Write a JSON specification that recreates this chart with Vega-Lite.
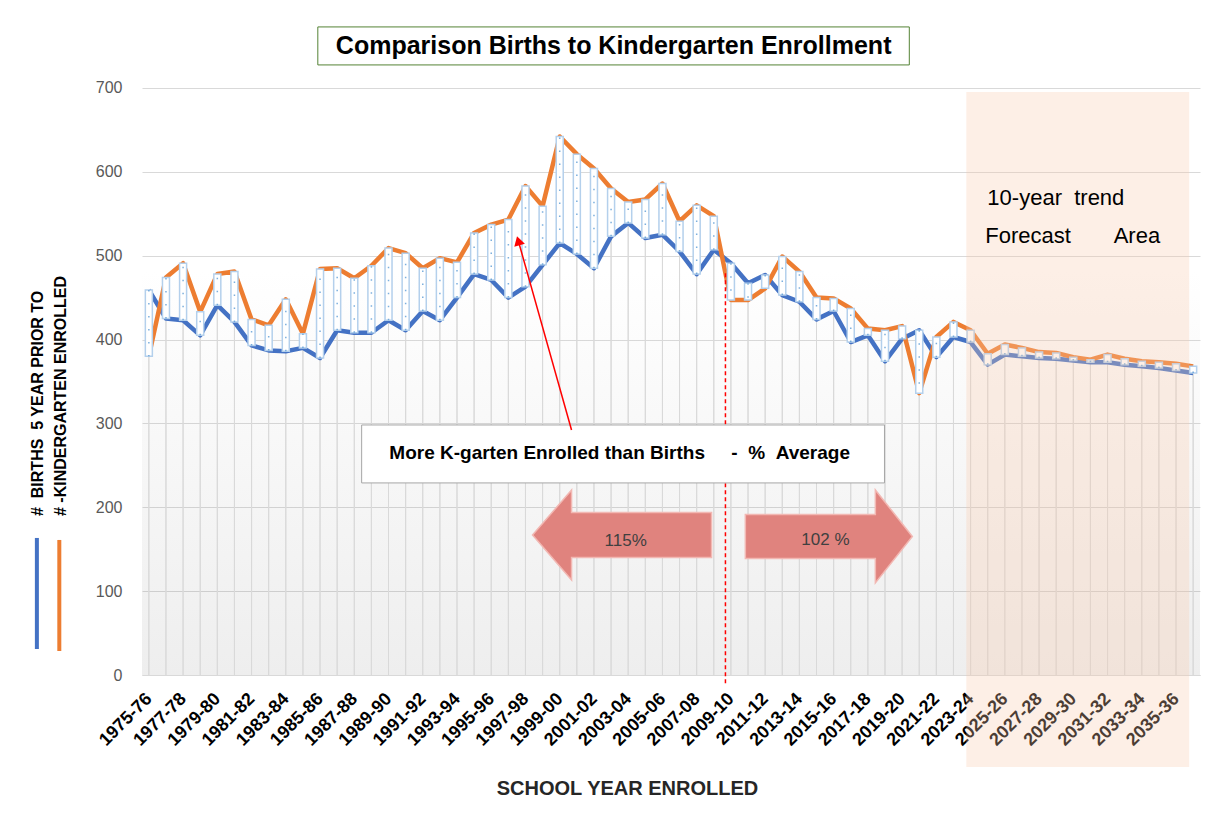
{
  "$schema": "https://vega.github.io/schema/vega-lite/v6.json",
  "width": 1058,
  "height": 650,
  "autosize": {"type": "none"},
  "padding": {"left": 142, "top": 25, "right": 25, "bottom": 149},
  "background": "#ffffff",
  "config": {"view": {"stroke": null}, "font": "Liberation Sans"},
  "datasets": {
    "k": [
      {"year":"1975-76","births":459,"enrolled":380},
      {"year":"1976-77","births":425,"enrolled":474},
      {"year":"1977-78","births":423,"enrolled":491},
      {"year":"1978-79","births":405,"enrolled":433},
      {"year":"1979-80","births":441,"enrolled":478},
      {"year":"1980-81","births":421,"enrolled":481},
      {"year":"1981-82","births":393,"enrolled":424},
      {"year":"1982-83","births":387,"enrolled":417},
      {"year":"1983-84","births":386,"enrolled":448},
      {"year":"1984-85","births":390,"enrolled":407},
      {"year":"1985-86","births":378,"enrolled":484},
      {"year":"1986-87","births":411,"enrolled":485},
      {"year":"1987-88","births":408,"enrolled":473},
      {"year":"1988-89","births":408,"enrolled":488},
      {"year":"1989-90","births":423,"enrolled":509},
      {"year":"1990-91","births":411,"enrolled":503},
      {"year":"1991-92","births":434,"enrolled":485},
      {"year":"1992-93","births":423,"enrolled":497},
      {"year":"1993-94","births":450,"enrolled":492},
      {"year":"1994-95","births":478,"enrolled":527},
      {"year":"1995-96","births":471,"enrolled":537},
      {"year":"1996-97","births":450,"enrolled":543},
      {"year":"1997-98","births":463,"enrolled":583},
      {"year":"1998-99","births":489,"enrolled":559},
      {"year":"1999-00","births":515,"enrolled":642},
      {"year":"2000-01","births":502,"enrolled":621},
      {"year":"2001-02","births":485,"enrolled":604},
      {"year":"2002-03","births":523,"enrolled":580},
      {"year":"2003-04","births":539,"enrolled":564},
      {"year":"2004-05","births":521,"enrolled":567},
      {"year":"2005-06","births":525,"enrolled":586},
      {"year":"2006-07","births":505,"enrolled":541},
      {"year":"2007-08","births":478,"enrolled":560},
      {"year":"2008-09","births":507,"enrolled":547},
      {"year":"2009-10","births":491,"enrolled":447},
      {"year":"2010-11","births":467,"enrolled":447},
      {"year":"2011-12","births":477,"enrolled":461},
      {"year":"2012-13","births":453,"enrolled":499},
      {"year":"2013-14","births":445,"enrolled":481},
      {"year":"2014-15","births":424,"enrolled":450},
      {"year":"2015-16","births":434,"enrolled":449},
      {"year":"2016-17","births":397,"enrolled":437},
      {"year":"2017-18","births":405,"enrolled":413},
      {"year":"2018-19","births":374,"enrolled":411},
      {"year":"2019-20","births":401,"enrolled":416},
      {"year":"2020-21","births":411,"enrolled":336},
      {"year":"2021-22","births":379,"enrolled":403},
      {"year":"2022-23","births":403,"enrolled":421},
      {"year":"2023-24","births":397,"enrolled":411},
      {"year":"2024-25","births":370,"enrolled":383},
      {"year":"2025-26","births":382,"enrolled":394},
      {"year":"2026-27","births":380,"enrolled":390},
      {"year":"2027-28","births":378,"enrolled":385},
      {"year":"2028-29","births":377,"enrolled":384},
      {"year":"2029-30","births":375,"enrolled":379},
      {"year":"2030-31","births":373,"enrolled":376},
      {"year":"2031-32","births":373,"enrolled":382},
      {"year":"2032-33","births":370,"enrolled":377},
      {"year":"2033-34","births":368,"enrolled":374},
      {"year":"2034-35","births":366,"enrolled":373},
      {"year":"2035-36","births":363,"enrolled":371},
      {"year":"2036-37","births":360,"enrolled":368}
    ]
  },
  "layer": [
    {
      "data": {"values": [{"x1": -0.4, "x2": 61.4, "y1": 0, "y2": 482}]},
      "mark": {"type": "rect", "fill": {"gradient": "linear", "x1": 0, "y1": 0, "x2": 0, "y2": 1, "stops": [{"offset": 0, "color": "#ffffff"}, {"offset": 1, "color": "#000000"}]}, "fillOpacity": 0.065},
      "encoding": {
        "x": {"field": "x1", "type": "quantitative", "scale": {"domain": [-0.4, 61.4], "nice": false, "zero": false}, "axis": null},
        "x2": {"field": "x2"},
        "y": {"field": "y1", "type": "quantitative", "scale": {"domain": [0, 775], "nice": false},
          "axis": {"title": null, "values": [0,100,200,300,400,500,600,700], "grid": true, "gridColor": "#d9d9d9", "gridWidth": 1, "domain": false, "ticks": false, "labelColor": "#595959", "labelFontSize": 16, "labelPadding": 20}},
        "y2": {"field": "y2"}
      }
    },
    {
      "data": {"name": "k"},
      "encoding": {
        "x": {
          "field": "year", "type": "ordinal",
          "scale": {"type": "point", "padding": 0.4},
          "title": "SCHOOL YEAR ENROLLED",
          "axis": {
            "labelExpr": "toNumber(substring(datum.label,0,4)) % 2 == 1 ? datum.label : ''",
            "labelAngle": -45, "labelFontSize": 18, "labelFontWeight": "bold", "labelColor": "#000000",
            "labelAlign": "right", "labelBaseline": "middle",
            "labelPadding": 21, "labelOverlap": false, "ticks": false, "grid": false,
            "domain": true, "domainColor": "#d9d9d9", "domainWidth": 1,
            "titleFontSize": 20, "titleFontWeight": "bold", "titleColor": "#262626",
            "titleX": 485, "titleY": 113, "titleBaseline": "middle", "titleAlign": "center"
          }
        }
      },
      "layer": [
        {
          "mark": {"type": "rule", "color": "#d9d9d9", "strokeWidth": 1},
          "encoding": {
            "y": {"field": "births", "type": "quantitative", "scale": {"domain": [0, 775], "nice": false}, "title": null},
            "y2": {"datum": 0}
          }
        },
        {
          "mark": {"type": "rule", "color": "#d9d9d9", "strokeWidth": 1},
          "encoding": {
            "y": {"field": "enrolled", "type": "quantitative", "scale": {"domain": [0, 775], "nice": false}, "title": null},
            "y2": {"datum": 0}
          }
        },
        {
          "mark": {"type": "line", "color": "#4472c4", "strokeWidth": 4.5, "strokeJoin": "round"},
          "encoding": {"y": {"field": "births", "type": "quantitative", "scale": {"domain": [0, 775], "nice": false}, "title": null}}
        },
        {
          "mark": {"type": "line", "color": "#ed7d31", "strokeWidth": 4.5, "strokeJoin": "round"},
          "encoding": {"y": {"field": "enrolled", "type": "quantitative", "scale": {"domain": [0, 775], "nice": false}, "title": null}}
        },
        {
          "mark": {"type": "bar", "width": 7, "fill": "#ffffff", "stroke": "#b4d0ec", "strokeWidth": 1.5},
          "encoding": {
            "y": {"field": "births", "type": "quantitative", "scale": {"domain": [0, 775], "nice": false}, "title": null},
            "y2": {"field": "enrolled"}
          }
        },
        {
          "mark": {"type": "rule", "color": "#5b9bd5", "strokeWidth": 1.5, "strokeDash": [1.5, 11.5], "opacity": 0.8},
          "encoding": {
            "y": {"field": "births", "type": "quantitative", "scale": {"domain": [0, 775], "nice": false}, "title": null},
            "y2": {"field": "enrolled"}
          }
        }
      ]
    },
    {
      "layer": [
        {
          "data": {"values": [{"x1": 47.75, "x2": 60.77, "y1": -109.7, "y2": 695.2}]},
          "mark": {"type": "rect", "fill": "#f8cbad", "opacity": 0.3},
          "encoding": {
            "x": {"field": "x1", "type": "quantitative", "scale": {"domain": [-0.4, 61.4], "nice": false, "zero": false}, "axis": null},
            "x2": {"field": "x2"},
            "y": {"field": "y1", "type": "quantitative", "scale": {"domain": [0, 775], "nice": false}, "title": null},
            "y2": {"field": "y2"}
          }
        },
        {
          "data": {"values": [{"x": 33.68, "y": 479, "y2": -12}]},
          "mark": {"type": "rule", "color": "#ff0000", "strokeWidth": 1.5, "strokeDash": [4, 3]},
          "encoding": {
            "x": {"field": "x", "type": "quantitative", "scale": {"domain": [-0.4, 61.4], "nice": false, "zero": false}, "axis": null},
            "y": {"field": "y", "type": "quantitative", "scale": {"domain": [0, 775], "nice": false}, "title": null},
            "y2": {"field": "y2"}
          }
        },
        {
          "data": {"values": [{"x1": 9.87, "x2": 44.42, "y1": 727.4, "y2": 772.7}]},
          "mark": {"type": "rect", "fill": "#ffffff", "stroke": "#548235", "strokeWidth": 1},
          "encoding": {
            "x": {"field": "x1", "type": "quantitative", "scale": {"domain": [-0.4, 61.4], "nice": false, "zero": false}, "axis": null},
            "x2": {"field": "x2"},
            "y": {"field": "y1", "type": "quantitative", "scale": {"domain": [0, 775], "nice": false}, "title": null},
            "y2": {"field": "y2"}
          }
        },
        {
          "data": {"values": [{"x": 27.15, "y": 749.5, "t": "Comparison Births to Kindergarten Enrollment"}]},
          "mark": {"type": "text", "fontSize": 25, "fontWeight": "bold", "color": "#000000", "align": "center", "baseline": "middle"},
          "encoding": {
            "x": {"field": "x", "type": "quantitative", "scale": {"domain": [-0.4, 61.4], "nice": false, "zero": false}, "axis": null},
            "y": {"field": "y", "type": "quantitative", "scale": {"domain": [0, 775], "nice": false}, "title": null},
            "text": {"field": "t"}
          }
        },
        {
          "data": {"values": [{"x1": 12.43, "x2": 42.97, "y1": 229.0, "y2": 298.1}]},
          "mark": {"type": "rect", "fill": "#ffffff", "stroke": "#a6a6a6", "strokeWidth": 1},
          "encoding": {
            "x": {"field": "x1", "type": "quantitative", "scale": {"domain": [-0.4, 61.4], "nice": false, "zero": false}, "axis": null},
            "x2": {"field": "x2"},
            "y": {"field": "y1", "type": "quantitative", "scale": {"domain": [0, 775], "nice": false}, "title": null},
            "y2": {"field": "y2"}
          }
        },
        {
          "data": {"values": [{"x": 27.5, "y": 264.7, "t": "More K-garten Enrolled than Births\u00a0\u00a0\u00a0\u00a0\u00a0-\u00a0\u00a0%\u00a0\u00a0Average"}]},
          "mark": {"type": "text", "fontSize": 19, "fontWeight": "bold", "color": "#000000", "align": "center", "baseline": "middle"},
          "encoding": {
            "x": {"field": "x", "type": "quantitative", "scale": {"domain": [-0.4, 61.4], "nice": false, "zero": false}, "axis": null},
            "y": {"field": "y", "type": "quantitative", "scale": {"domain": [0, 775], "nice": false}, "title": null},
            "text": {"field": "t"}
          }
        },
        {
          "data": {"values": [{"x": 24.69, "y": 292.2, "x2": 21.58, "y2": 517.8}]},
          "mark": {"type": "rule", "color": "#ff0000", "strokeWidth": 1.5},
          "encoding": {
            "x": {"field": "x", "type": "quantitative", "scale": {"domain": [-0.4, 61.4], "nice": false, "zero": false}, "axis": null},
            "x2": {"field": "x2"},
            "y": {"field": "y", "type": "quantitative", "scale": {"domain": [0, 775], "nice": false}, "title": null},
            "y2": {"field": "y2"}
          }
        },
        {
          "data": {"values": [{"x": 21.58, "y": 517.8}]},
          "mark": {"type": "point", "shape": "triangle-up", "angle": -16, "size": 120, "filled": true, "color": "#ff0000", "opacity": 1},
          "encoding": {
            "x": {"field": "x", "type": "quantitative", "scale": {"domain": [-0.4, 61.4], "nice": false, "zero": false}, "axis": null},
            "y": {"field": "y", "type": "quantitative", "scale": {"domain": [0, 775], "nice": false}, "title": null}
          }
        },
        {
          "data": {"values": [{"x": 27.64, "y": 166.9}]},
          "mark": {"type": "point", "shape": "M -1 0 L -0.564 -0.503 L -0.564 -0.251 L 1 -0.251 L 1 0.251 L -0.564 0.251 L -0.564 0.503 Z", "size": 32041, "filled": true, "fill": "#e0837e", "stroke": "#f2b8b3", "strokeWidth": 1.5, "opacity": 1},
          "encoding": {
            "x": {"field": "x", "type": "quantitative", "scale": {"domain": [-0.4, 61.4], "nice": false, "zero": false}, "axis": null},
            "y": {"field": "y", "type": "quantitative", "scale": {"domain": [0, 775], "nice": false}, "title": null}
          }
        },
        {
          "data": {"values": [{"x": 39.72, "y": 165.2}]},
          "mark": {"type": "point", "shape": "M 1 0 L 0.557 -0.557 L 0.557 -0.263 L -1 -0.263 L -1 0.263 L 0.557 0.263 L 0.557 0.557 Z", "size": 27889, "filled": true, "fill": "#e0837e", "stroke": "#f2b8b3", "strokeWidth": 1.5, "opacity": 1},
          "encoding": {
            "x": {"field": "x", "type": "quantitative", "scale": {"domain": [-0.4, 61.4], "nice": false, "zero": false}, "axis": null},
            "y": {"field": "y", "type": "quantitative", "scale": {"domain": [0, 775], "nice": false}, "title": null}
          }
        },
        {
          "data": {"values": [{"x": 27.85, "y": 160.2, "t": "115%"}, {"x": 39.52, "y": 161.0, "t": "102 %"}]},
          "mark": {"type": "text", "fontSize": 17, "color": "#404040", "align": "center", "baseline": "middle"},
          "encoding": {
            "x": {"field": "x", "type": "quantitative", "scale": {"domain": [-0.4, 61.4], "nice": false, "zero": false}, "axis": null},
            "y": {"field": "y", "type": "quantitative", "scale": {"domain": [0, 775], "nice": false}, "title": null},
            "text": {"field": "t"}
          }
        },
        {
          "data": {"values": [{"x": 48.98, "y": 568.8, "t": "10-year\u00a0\u00a0trend"}, {"x": 48.86, "y": 523.5, "t": "Forecast\u00a0\u00a0\u00a0\u00a0\u00a0\u00a0\u00a0Area"}]},
          "mark": {"type": "text", "fontSize": 22, "color": "#000000", "align": "left", "baseline": "middle"},
          "encoding": {
            "x": {"field": "x", "type": "quantitative", "scale": {"domain": [-0.4, 61.4], "nice": false, "zero": false}, "axis": null},
            "y": {"field": "y", "type": "quantitative", "scale": {"domain": [0, 775], "nice": false}, "title": null},
            "text": {"field": "t"}
          }
        },
        {
          "data": {"values": [{"x": -6.48, "y": 189.6, "t": "#\u00a0 BIRTHS\u00a0 5 YEAR PRIOR TO"}, {"x": -5.14, "y": 189.6, "t": "# -KINDERGARTEN ENROLLED"}]},
          "mark": {"type": "text", "fontSize": 16, "fontWeight": "bold", "color": "#000000", "align": "left", "baseline": "middle", "angle": -90},
          "encoding": {
            "x": {"field": "x", "type": "quantitative", "scale": {"domain": [-0.4, 61.4], "nice": false, "zero": false}, "axis": null},
            "y": {"field": "y", "type": "quantitative", "scale": {"domain": [0, 775], "nice": false}, "title": null},
            "text": {"field": "t"}
          }
        },
        {
          "data": {"values": [{"x": -6.54, "y": 163.4, "y2": 31.0, "s": "births"}, {"x": -5.23, "y": 161.0, "y2": 28.6, "s": "enrolled"}]},
          "mark": {"type": "rule", "strokeWidth": 4},
          "encoding": {
            "x": {"field": "x", "type": "quantitative", "scale": {"domain": [-0.4, 61.4], "nice": false, "zero": false}, "axis": null},
            "y": {"field": "y", "type": "quantitative", "scale": {"domain": [0, 775], "nice": false}, "title": null},
            "y2": {"field": "y2"},
            "color": {"field": "s", "type": "nominal", "scale": {"domain": ["births", "enrolled"], "range": ["#4472c4", "#ed7d31"]}, "legend": null}
          }
        }
      ]
    }
  ],
  "resolve": {"scale": {"x": "independent"}}
}
